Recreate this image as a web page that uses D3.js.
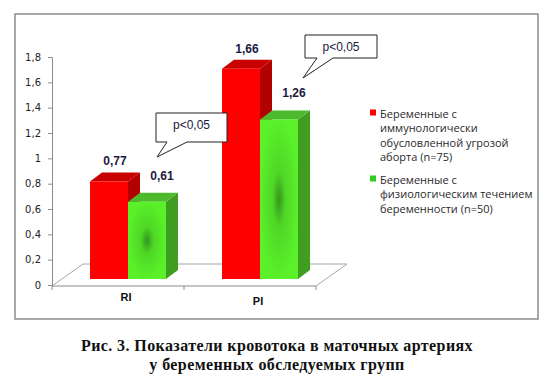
<!DOCTYPE html>
<html>
<head>
<meta charset="utf-8">
<script src="https://cdn.jsdelivr.net/npm/d3@7"></script>
<style>
  body { margin: 0; background: #fff; }
  svg { display: block; }
</style>
</head>
<body>
<svg id="chart" width="548" height="377"></svg>
<script>
// data
var categories = ["RI", "PI"];
var seriesNames = [
    ["Беременные с", "иммунологически", "обусловленной угрозой", "аборта (n=75)"],
    ["Беременные с", "физиологическим течением", "беременности (n=50)"]
];
var threatValues = [0.77, 1.66];
var normalValues = [0.61, 1.26];
var yTicks = [0, 0.2, 0.4, 0.6, 0.8, 1, 1.2, 1.4, 1.6, 1.8];
var pLabels = ["p<0,05", "p<0,05"];
var captionLines = ["Рис. 3. Показатели кровотока в маточных артериях", "у беременных обследуемых групп"];

var svg = d3.select("#chart");

function fmt(d) {
    return String(+d.toFixed(2)).replace(".", ",");
}

// frame
svg.append("rect")
    .attr("x", 15).attr("y", 14).attr("width", 523).attr("height", 305)
    .attr("fill", "none").attr("stroke", "#8c8c8c").attr("stroke-width", 1.5);

var defs = svg.append("defs");
var grad = defs.append("radialGradient").attr("id", "greenGrad")
    .attr("cx", "50%").attr("cy", "50%").attr("r", "50%");
grad.append("stop").attr("offset", "0%").attr("stop-color", "#35961f");
grad.append("stop").attr("offset", "35%").attr("stop-color", "#4fd726");
grad.append("stop").attr("offset", "100%").attr("stop-color", "#5af02a");

// scales
var x = d3.scaleBand().domain(categories).range([52, 316]);
var y = d3.scaleLinear().domain([0, 1.8]).range([285, 57]);

// floor (3D depth)
var depthX = 31, depthY = -22;
var x0 = 52, x1 = 316, yb = y(0) + 1;
svg.append("path")
    .attr("d", "M" + x0 + "," + yb + "L" + (x0 + depthX) + "," + (yb + depthY) +
        "L" + (x1 + depthX) + "," + (yb + depthY) + "L" + x1 + "," + yb)
    .attr("fill", "none").attr("stroke", "#a6a6a6").attr("stroke-width", 1);
svg.append("line")
    .attr("x1", x0).attr("x2", x1).attr("y1", yb).attr("y2", yb)
    .attr("stroke", "#8c8c8c");
// category ticks
svg.selectAll(".ctick").data(x.domain().concat(["end"]))
    .enter().append("line")
    .attr("x1", function (d) { return d === "end" ? x1 : x(d); })
    .attr("x2", function (d) { return d === "end" ? x1 : x(d); })
    .attr("y1", yb).attr("y2", yb + 4)
    .attr("stroke", "#8c8c8c");

// y axis
var yAxis = svg.append("g")
    .attr("transform", "translate(52,0)")
    .call(d3.axisLeft(y).tickValues(yTicks).tickSize(4).tickFormat(fmt));
yAxis.select(".domain").attr("stroke", "#8c8c8c");
yAxis.selectAll(".tick line").attr("stroke", "#8c8c8c");
yAxis.selectAll("text")
    .attr("font-family", "DejaVu Sans, sans-serif")
    .attr("font-size", 10).attr("fill", "#222").attr("dx", -4);

// bars
var shiftX = 10, shiftY = -6;
var bw = 38, dx = 12, dy = -9;
var series = [
    { values: threatValues, front: "#ff0000", side: "#b30000", top: "#c80000", offset: -1, lx: 6, ly: 20 },
    { values: normalValues, front: "url(#greenGrad)", side: "#3f9e1f", top: "#4cba2c", offset: 0, lx: 15, ly: 26 }
];

series.forEach(function (s) {
    var g = svg.append("g");
    var bars = g.selectAll("g").data(s.values).enter().append("g");
    function bx(d, i) { return x(categories[i]) + x.bandwidth() / 2 + s.offset * bw + shiftX; }
    function by(d) { return y(d) + shiftY; }
    var base = y(0) + shiftY;
    // side
    bars.append("path")
        .attr("d", function (d, i) {
            var l = bx(d, i) + bw;
            return "M" + l + "," + by(d) + "L" + (l + dx) + "," + (by(d) + dy) +
                "L" + (l + dx) + "," + (base + dy) + "L" + l + "," + base + "Z";
        })
        .attr("fill", s.side);
    // top
    bars.append("path")
        .attr("d", function (d, i) {
            var l = bx(d, i);
            return "M" + l + "," + by(d) + "L" + (l + dx) + "," + (by(d) + dy) +
                "L" + (l + bw + dx) + "," + (by(d) + dy) + "L" + (l + bw) + "," + by(d) + "Z";
        })
        .attr("fill", s.top);
    // front
    bars.append("rect")
        .attr("x", bx)
        .attr("y", by)
        .attr("width", bw)
        .attr("height", function (d) { return base - by(d); })
        .attr("fill", s.front);
    // value labels
    bars.append("text")
        .attr("x", function (d, i) { return bx(d, i) + bw / 2 + s.lx; })
        .attr("y", function (d) { return by(d) - s.ly; })
        .attr("text-anchor", "middle")
        .attr("dominant-baseline", "central")
        .attr("font-family", "Liberation Sans, Arial, sans-serif")
        .attr("font-weight", "bold")
        .attr("font-size", 12)
        .attr("fill", "#1a1a40")
        .text(function (d) { return fmt(d); });
});

// category labels
svg.selectAll(".clabel").data(categories).enter().append("text")
    .attr("x", function (d) { return x(d) + x.bandwidth() / 2 + 8; })
    .attr("y", function (d, i) { return 297 + i * 4; })
    .attr("text-anchor", "middle")
    .attr("dominant-baseline", "central")
    .attr("font-family", "Liberation Sans, Arial, sans-serif")
    .attr("font-weight", "bold")
    .attr("font-size", 11)
    .attr("fill", "#111")
    .text(function (d) { return d; });

// callouts
var callouts = [
    { box: [156, 113, 71, 29], base: [167, 187], tip: [157, 157] },
    { box: [305, 35, 72, 23], base: [317, 333], tip: [303, 78] }
];
callouts.forEach(function (c, i) {
    var b = c.box, bot = b[1] + b[3];
    svg.append("path")
        .attr("d", "M" + b[0] + "," + b[1] + "H" + (b[0] + b[2]) + "V" + bot +
            "H" + c.base[1] + "L" + c.tip[0] + "," + c.tip[1] + "L" + c.base[0] + "," + bot +
            "H" + b[0] + "Z")
        .attr("fill", "#fff").attr("stroke", "#222").attr("stroke-width", 1);
    svg.append("text")
        .attr("x", b[0] + b[2] / 2)
        .attr("y", b[1] + (i === 0 ? 12 : b[3] / 2))
        .attr("text-anchor", "middle")
        .attr("dominant-baseline", "central")
        .attr("font-family", "Liberation Sans, Arial, sans-serif")
        .attr("font-size", 12)
        .attr("fill", "#1a1a40")
        .text(pLabels[i]);
});

// legend
var legendColors = ["#ff0000", "#33cc22"];
var legendTop = [113, 179];
seriesNames.forEach(function (lines, i) {
    svg.append("rect")
        .attr("x", 370).attr("y", legendTop[i] - 3.5)
        .attr("width", 6).attr("height", 6)
        .attr("fill", legendColors[i]);
    svg.append("text")
        .attr("font-family", "Open Sans, Noto Sans, sans-serif")
        .attr("font-size", 11)
        .attr("fill", "#2a2a2a")
        .selectAll("tspan").data(lines).enter().append("tspan")
        .attr("x", 380)
        .attr("y", function (d, j) { return legendTop[i] + j * 14.5; })
        .attr("dominant-baseline", "central")
        .text(function (d) { return d; });
});

// caption
captionLines.forEach(function (line, i) {
    svg.append("text")
        .attr("x", 277)
        .attr("y", 345.5 + i * 18.5)
        .attr("text-anchor", "middle")
        .attr("dominant-baseline", "central")
        .attr("font-family", "Liberation Serif, Times New Roman, serif")
        .attr("font-weight", "bold")
        .attr("font-size", 16)
        .attr("letter-spacing", 0.4)
        .attr("fill", "#111")
        .text(line);
});
</script>
</body>
</html>
